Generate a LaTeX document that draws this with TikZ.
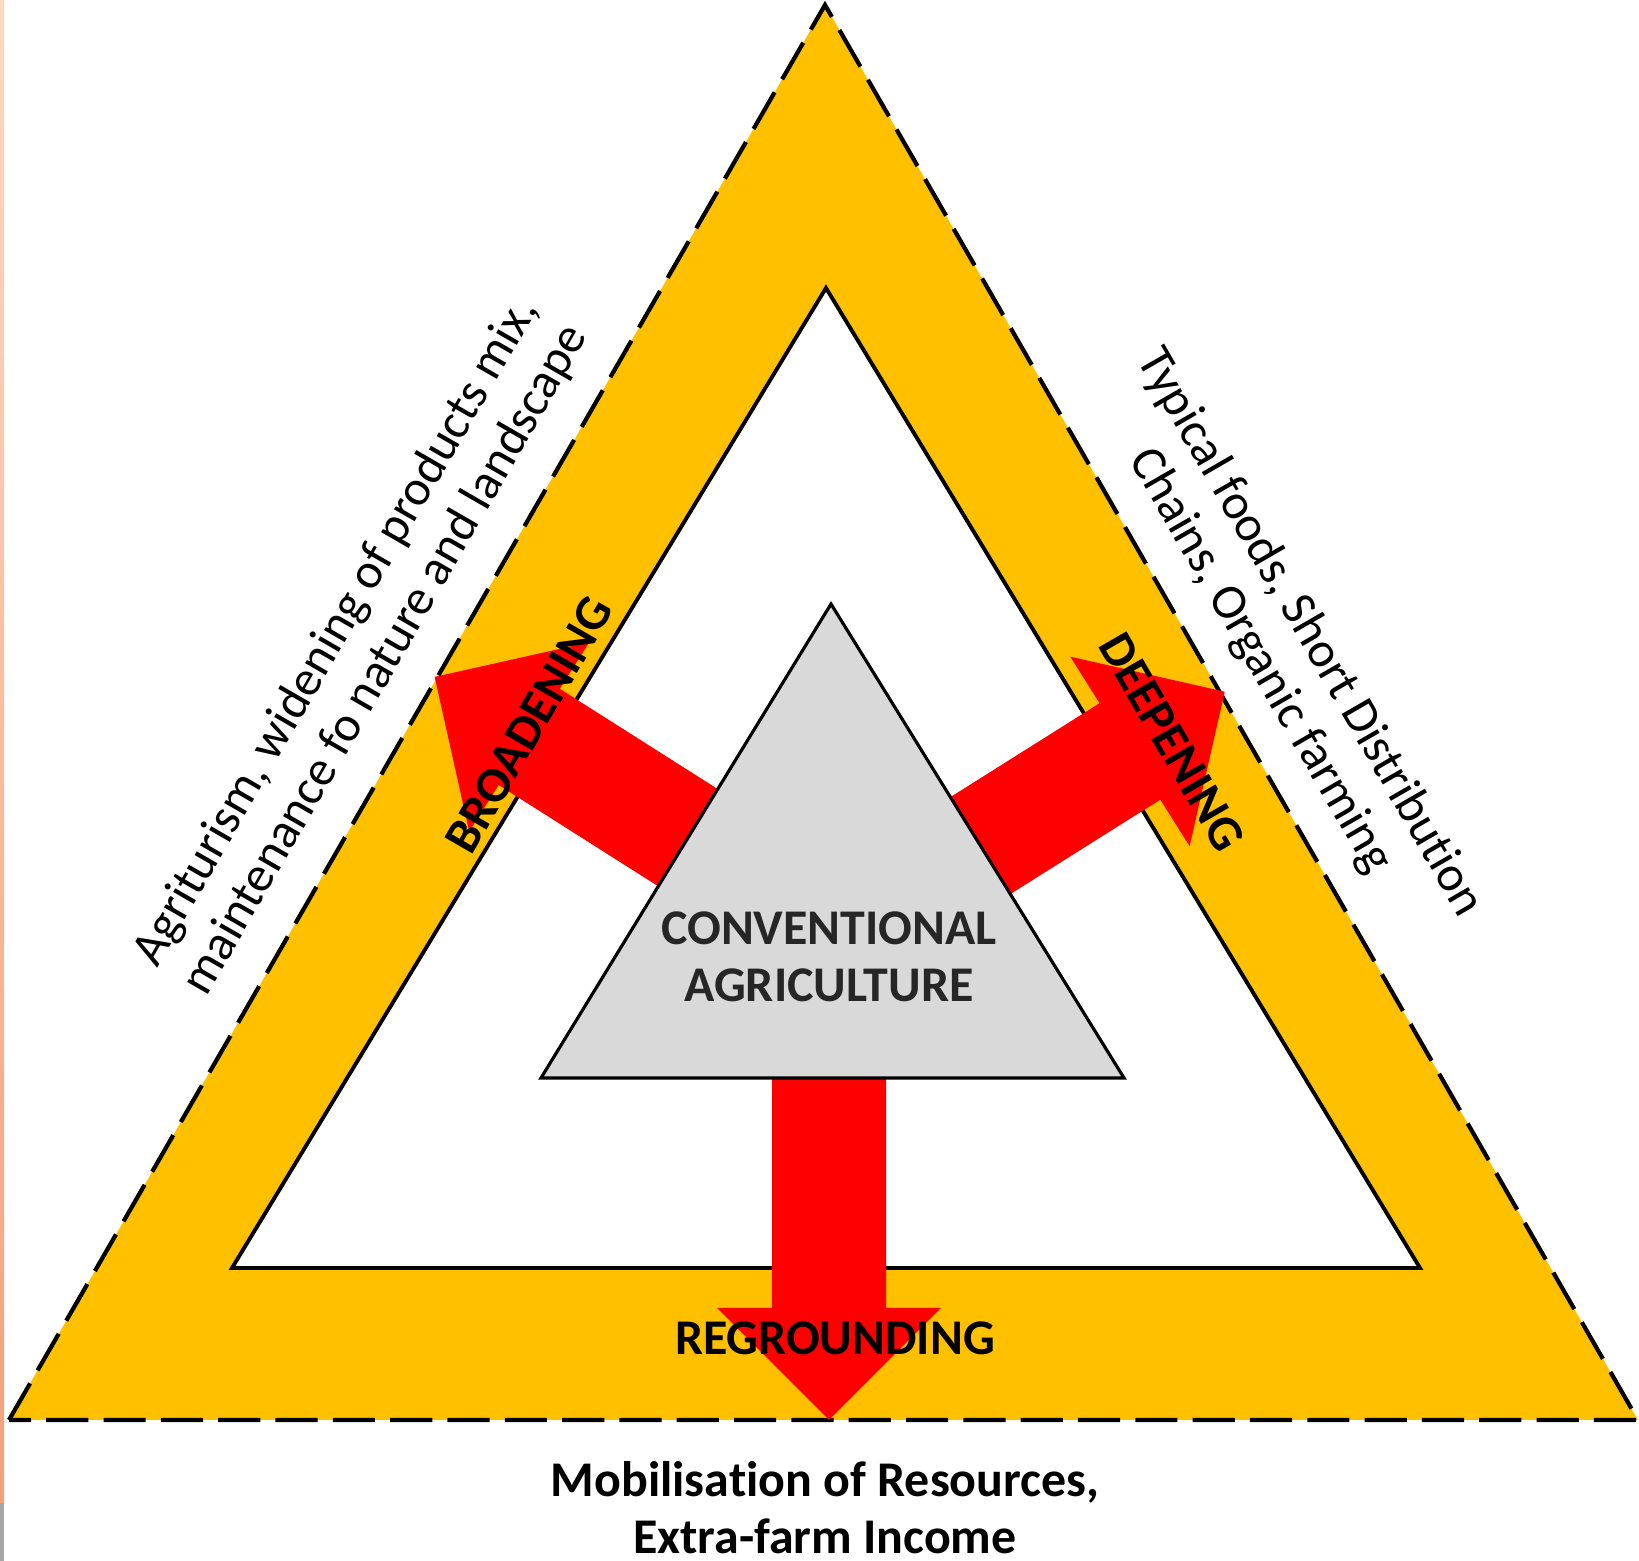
\documentclass[tikz,border=0pt]{standalone}
\usepackage{fontspec}
\setmainfont{Carlito}[RawFeature=-liga]

\definecolor{bandyellow}{HTML}{FFC000}
\definecolor{arrowred}{HTML}{FF0000}
\definecolor{convgray}{HTML}{D9D9D9}
\definecolor{edgepeach}{HTML}{FCD9C0}
\definecolor{edgesalmon}{HTML}{F3A07C}

% fat arrow: start coordinate, angle, length
\newcommand{\fatarrow}[3]{%
  \fill[arrowred, shift={(#1)}, rotate=#2]
    (0,-57) -- ({#3-112},-57) -- ({#3-112},-112) -- (#3,0)
    -- ({#3-112},112) -- ({#3-112},57) -- (0,57) -- cycle;}

\begin{document}
\begin{tikzpicture}[x=0.01cm, y=0.01cm,
    bandline/.style={dash pattern=on 12pt off 4.3pt, line width=1.2pt},
    sidetext/.style={align=center, font=\fontsize{14.2}{16.2}\selectfont},
    boldtext/.style={align=center, font=\fontsize{14.2}{16.2}\selectfont\bfseries}]
    \useasboundingbox (0,0) rectangle (1639,1561);
    \fill[top color=edgepeach, bottom color=edgesalmon] (0,58) rectangle (4,1561);
    \fill[gray!70] (0,0) rectangle (4,58);

    \coordinate (outtop) at (825,1556);
    \coordinate (outleft) at (9,141);
    \coordinate (outright) at (1638,141);
    \coordinate (intop) at (826,1273);
    \coordinate (inleft) at (232,293);
    \coordinate (inright) at (1420,293);
    \coordinate (convtop) at (831,957);
    \coordinate (convleft) at (541,483);
    \coordinate (convright) at (1124,483);

    \filldraw[fill=bandyellow, bandline] (outleft) -- (outtop) -- (outright) -- cycle;
    \filldraw[fill=white, line width=1.1pt] (inleft) -- (intop) -- (inright) -- cycle;

    \coordinate (broadstart) at (720,703);
    \coordinate (deepstart) at (948,695);
    \coordinate (groundstart) at (829,523);
    \fatarrow{broadstart}{147.6}{338}
    \fatarrow{deepstart}{32.2}{327}
    \fatarrow{groundstart}{-90}{382}

    \filldraw[fill=convgray, line width=0.9pt] (convleft) -- (convtop) -- (convright) -- cycle;

    \node[boldtext, text=black!85] (conv) at (829,604) {CONVENTIONAL\\AGRICULTURE};
    \node[boldtext, rotate=60] (broad) at (529,836) {BROADENING};
    \node[boldtext, rotate=-60] (deep) at (1172,819) {DEEPENING};
    \node[boldtext] (reground) at (835,223) {REGROUNDING};

    \node[sidetext, rotate=60] (leftnote) at (361,915)
        {Agriturism, widening of products mix,\\maintenance fo nature and landscape};
    \node[sidetext, rotate=-60] (rightnote) at (1285,914)
        {Typical foods, Short Distribution\\Chains, Organic farming};
    \node[boldtext] (bottomnote) at (825,53)
        {Mobilisation of Resources,\\Extra-farm Income};
\end{tikzpicture}
\end{document}
